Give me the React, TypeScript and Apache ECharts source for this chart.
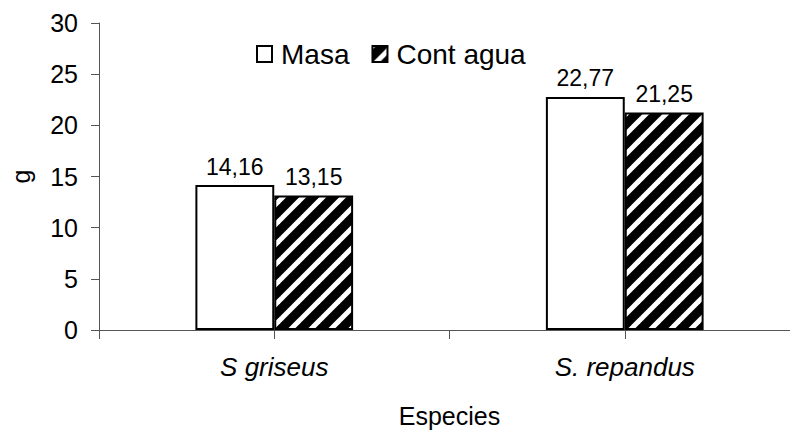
import React, { useEffect, useRef } from 'react';
import * as echarts from 'echarts';

const categories = ['S griseus', 'S. repandus'];
const seriesNames = ['Masa', 'Cont agua'];
const masa = [14.16, 22.77];
const contAgua = [13.15, 21.25];
const yMin = 0;
const yMax = 30;
const yInterval = 5;
const xTitle = 'Especies';
const yTitle = 'g';

const FONT = '"Liberation Sans", Arial, Helvetica, sans-serif';
const AXIS_COLOR = '#555';

function makeHatch(): string {
  const c = document.createElement('canvas');
  c.width = 20;
  c.height = 20;
  const ctx = c.getContext('2d')!;
  ctx.fillStyle = '#000';
  ctx.fillRect(0, 0, 20, 20);
  ctx.strokeStyle = '#fff';
  ctx.lineWidth = 5;
  for (const k of [0, 20, 40]) {
    ctx.beginPath();
    ctx.moveTo(k - 30, 30);
    ctx.lineTo(30, k - 30);
    ctx.stroke();
  }
  return c.toDataURL();
}

const fmt = (p: any) => Number(p.value).toFixed(2).replace('.', ',');

export default function App() {
  const ref = useRef<HTMLDivElement>(null);
  useEffect(() => {
    if (!ref.current) return;
    const chart = echarts.init(ref.current, undefined, { renderer: 'svg' });
    const hatch = { image: makeHatch(), repeat: 'repeat', imageWidth: 20, imageHeight: 20 } as any;
    const labelStyle = {
      show: true,
      position: 'top',
      distance: 7,
      formatter: fmt,
      color: '#000',
      fontSize: 23,
      fontFamily: FONT,
    };
    chart.setOption({
      animation: false,
      backgroundColor: '#fff',
      textStyle: { fontFamily: FONT, color: '#000' },
      legend: {
        data: seriesNames,
        left: 256,
        top: 40,
        padding: 0,
        itemWidth: 15,
        itemHeight: 16,
        itemGap: 22,
        icon: 'rect',
        textStyle: { fontSize: 28, color: '#000', fontFamily: FONT, padding: [0, 0, 0, 4] },
      },
      grid: { left: 98, top: 23, width: 702, height: 310, containLabel: false },
      xAxis: [
        {
          type: 'category',
          data: categories,
          position: 'bottom',
          name: xTitle,
          nameLocation: 'middle',
          nameGap: 73,
          nameTextStyle: { fontSize: 25, color: '#000', fontFamily: FONT },
          axisLine: { show: true, lineStyle: { color: AXIS_COLOR, width: 1 } },
          axisTick: { show: true, length: 9, interval: 0, lineStyle: { color: AXIS_COLOR } },
          axisLabel: { fontSize: 26, fontStyle: 'italic', color: '#000', margin: 24, fontFamily: FONT },
          splitLine: { show: false },
        },
        {
          type: 'category',
          data: categories,
          position: 'bottom',
          axisLine: { show: false },
          axisTick: { show: true, length: 9, alignWithLabel: true, interval: 0, lineStyle: { color: AXIS_COLOR } },
          axisLabel: { show: false },
          splitLine: { show: false },
        },
      ],
      yAxis: {
        type: 'value',
        min: yMin,
        max: yMax,
        interval: yInterval,
        name: yTitle,
        nameLocation: 'middle',
        nameGap: 66,
        nameRotate: 90,
        nameTextStyle: { fontSize: 25, color: '#000', fontFamily: FONT },
        axisLine: { show: true, lineStyle: { color: AXIS_COLOR, width: 1 } },
        axisTick: { show: true, length: 8, lineStyle: { color: AXIS_COLOR } },
        axisLabel: { fontSize: 25, color: '#000', margin: 21, fontFamily: FONT },
        splitLine: { show: false },
      },
      series: [
        {
          name: seriesNames[0],
          type: 'bar',
          data: masa,
          barGap: '0%',
          barCategoryGap: '55%',
          itemStyle: { color: '#fff', borderColor: '#000', borderWidth: 2 },
          label: labelStyle,
        },
        {
          name: seriesNames[1],
          type: 'bar',
          data: contAgua,
          barGap: '0%',
          barCategoryGap: '55%',
          itemStyle: { color: hatch, borderColor: '#000', borderWidth: 2 },
          label: labelStyle,
        },
      ],
    });
    return () => chart.dispose();
  }, []);
  return (
    <div
      style={{ position: 'fixed', left: 0, top: 0, width: 790, height: 433, overflow: 'hidden', background: '#fff' }}
    >
      <div ref={ref} style={{ width: 830, height: 433 }} />
    </div>
  );
}
